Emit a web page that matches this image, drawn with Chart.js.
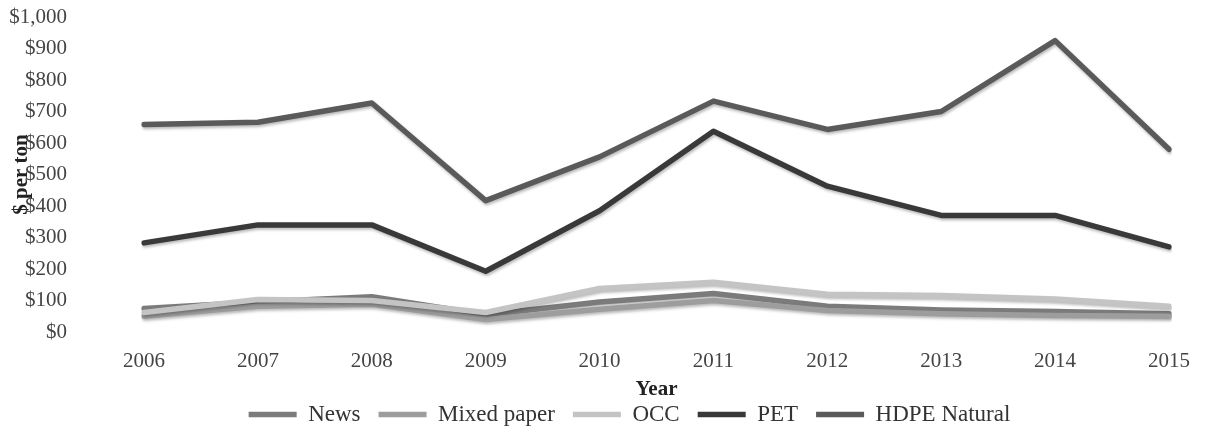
<!DOCTYPE html>
<html lang="en">
<head>
    <meta charset="UTF-8" />
    <title>Recycled material prices</title>
    <script src="https://cdn.jsdelivr.net/npm/chart.js"></script>
    <style>
        html, body { margin: 0; padding: 0; background: #fff; }
        #wrap { width: 1207px; height: 426px; }
    </style>
</head>
<body>
    <div id="wrap"><canvas id="priceChart"></canvas></div>

    <script>
        const years = ["2006", "2007", "2008", "2009", "2010", "2011", "2012", "2013", "2014", "2015"];
        const news = [75, 95, 112, 55, 95, 122, 82, 70, 65, 58];
        const mixedPaper = [50, 82, 88, 40, 72, 100, 68, 58, 52, 50];
        const occ = [62, 103, 100, 62, 138, 158, 120, 116, 105, 82];
        const pet = [283, 340, 340, 193, 385, 637, 463, 370, 370, 270];
        const hdpeNatural = [659, 666, 727, 417, 556, 733, 643, 700, 925, 580];

        const serif = "'Liberation Serif', 'DejaVu Serif', serif";

        function line(label, data, color, order) {
            return {
                label: label,
                data: data,
                borderColor: color,
                backgroundColor: color,
                borderWidth: 5.5,
                borderCapStyle: 'round',
                borderJoinStyle: 'round',
                pointRadius: 0,
                tension: 0,
                fill: false,
                order: order
            };
        }

        // soft drop shadow under the lines, like the original
        const shadow = {
            id: 'shadow',
            beforeDatasetsDraw(chart) {
                const ctx = chart.ctx;
                ctx.save();
                ctx.shadowColor = 'rgba(0,0,0,0.28)';
                ctx.shadowBlur = 3;
                ctx.shadowOffsetX = 1;
                ctx.shadowOffsetY = 2;
            },
            afterDatasetsDraw(chart) {
                chart.ctx.restore();
            }
        };

        // the original legend sits a bit right of the canvas centre
        const legendShift = {
            id: 'legendShift',
            afterLayout(chart) {
                chart.legend.left = 77;
            }
        };

        new Chart(document.getElementById("priceChart"), {
            type: 'line',
            data: {
                labels: years,
                datasets: [
                    line('News', news, '#7b7b7b', 5),
                    line('Mixed paper', mixedPaper, '#9d9d9d', 4),
                    line('OCC', occ, '#c4c4c4', 3),
                    line('PET', pet, '#393939', 2),
                    line('HDPE Natural', hdpeNatural, '#5a5a5a', 1)
                ]
            },
            options: {
                responsive: true,
                maintainAspectRatio: false,
                animation: false,
                layout: { padding: { top: 17, right: 25, bottom: -10, left: 0 } },
                plugins: {
                    tooltip: { enabled: false },
                    legend: {
                        position: 'bottom',
                        labels: {
                            usePointStyle: true,
                            pointStyle: 'line',
                            pointStyleWidth: 48,
                            padding: 18,
                            color: '#333',
                            font: { family: serif, size: 23 },
                            sort: (a, b) => a.datasetIndex - b.datasetIndex
                        }
                    }
                },
                scales: {
                    x: {
                        grid: { display: false, drawTicks: false },
                        border: { display: false },
                        afterFit: (scale) => { scale.height = 53; },
                        ticks: { color: '#444', padding: 17, font: { family: serif, size: 21 } },
                        title: {
                            display: true,
                            text: 'Year',
                            color: '#222',
                            padding: { top: 0, bottom: -17 },
                            font: { family: serif, size: 21, weight: 'bold' }
                        }
                    },
                    y: {
                        min: 0,
                        max: 1000,
                        grid: { display: false, drawTicks: false },
                        border: { display: false },
                        afterFit: (scale) => {
                            scale.width = 144;
                            scale.paddingTop = 12;
                            scale.paddingBottom = 12;
                        },
                        ticks: {
                            stepSize: 100,
                            autoSkip: false,
                            color: '#444',
                            padding: 77,
                            font: { family: serif, size: 21 },
                            callback: (v) => '$' + v.toLocaleString('en-US')
                        },
                        title: {
                            display: true,
                            text: '$ per ton',
                            color: '#222',
                            padding: { top: 9, bottom: 0 },
                            font: { family: serif, size: 21, weight: 'bold' }
                        }
                    }
                }
            },
            plugins: [shadow, legendShift]
        });
    </script>
</body>
</html>
